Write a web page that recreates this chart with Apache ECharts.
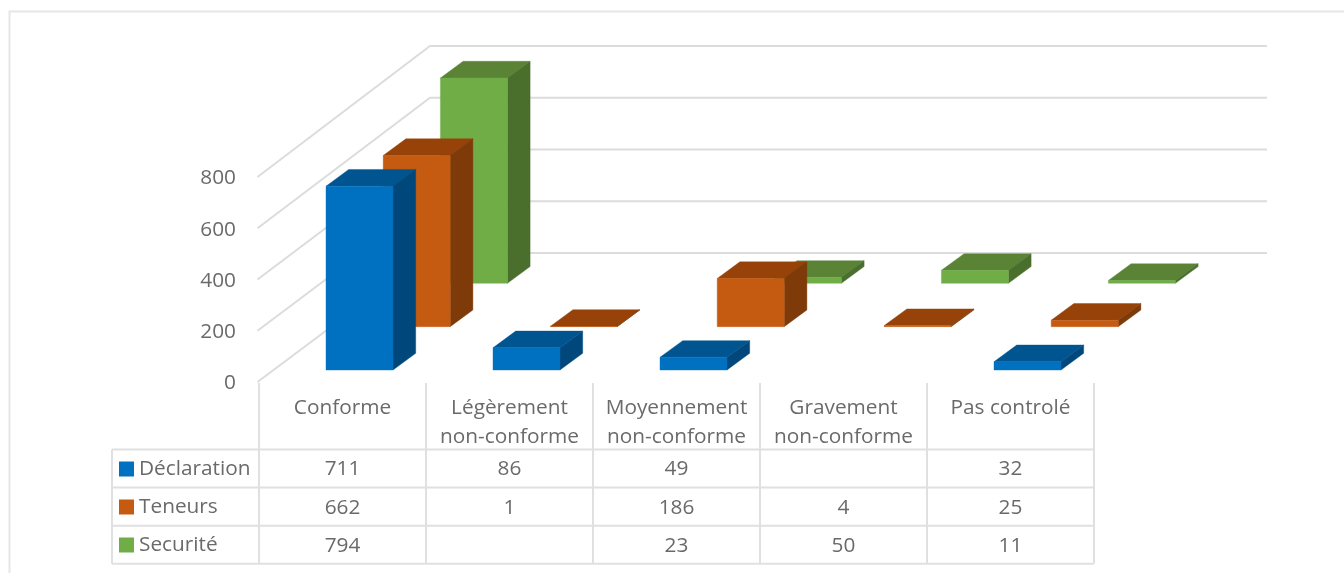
<!DOCTYPE html>
<html><head><meta charset="utf-8">
<style>html,body{margin:0;padding:0;background:#fff}#c{width:1344px;height:573px}</style>
<script src="https://cdn.jsdelivr.net/npm/echarts@6/dist/echarts.min.js"></script>
</head><body><div id="c"></div>
<script>
const categories = ['Conforme','Légèrement\nnon-conforme','Moyennement\nnon-conforme','Gravement\nnon-conforme','Pas controlé'];
const declaration = [711, 86, 49, null, 32];
const teneurs = [662, 1, 186, 4, 25];
const securite = [794, null, 23, 50, 11];
const yTicks = [0, 200, 400, 600, 800];

const FONT = '"Open Sans", sans-serif';
const FONT_SIZE = 20.8;
const TEXT = '#6A6A6A';
const LINE = '#E0E0E0';
const chart = echarts.init(document.getElementById('c'));

// Projection constants of the fake 3D view
const WALL_DX = 171, WALL_DY = 129, WALL_W = 837, WALL_SCALE = 1.01;
const BAR_W = 67, BAR_DX = 22.7, BAR_DY = 16.7, BAR_SCALE = 1.009;
const FRONT_SHIFT_X = 17, FRONT_SHIFT_Y = 12, ROW_DX = 57.2, ROW_DY = 43.35;
const ROW_LINES = [449.5, 487.6, 525.7, 563.8];
const TABLE_LEFT = 112, HEADER_TOP = 383;

function poly(points, fill, z2) {
  return {type:'polygon', z2, shape:{points}, style:{fill, stroke:fill, lineWidth:0.4}};
}
function barSeries(name, values, row, front, top, side) {
  return {
    name, type:'custom', coordinateSystem:'cartesian2d', silent:true, z:2+(2-row),
    itemStyle:{color:front},
    data: values.map((v,i)=>[i,v]).filter(d=>d[1]!==null),
    renderItem(params, api) {
      const p0 = api.coord([api.value(0), 0]);
      const pv = api.coord([api.value(0), api.value(1)]);
      const h = (p0[1]-pv[1])*BAR_SCALE;
      const l = p0[0]+FRONT_SHIFT_X-BAR_W/2+ROW_DX*row, r = l+BAR_W;
      const b = p0[1]-FRONT_SHIFT_Y-ROW_DY*row, t = b-h;
      return {type:'group', children:[
        poly([[l,t],[r,t],[r+BAR_DX,t-BAR_DY],[l+BAR_DX,t-BAR_DY]], top),
        poly([[r,b],[r+BAR_DX,b-BAR_DY],[r+BAR_DX,t-BAR_DY],[r,t]], side),
        poly([[l,b],[r,b],[r,t],[l,t]], front)
      ]};
    }
  };
}
function line(x1,y1,x2,y2){
  return {type:'line', shape:{x1,y1,x2,y2}, style:{stroke:LINE, lineWidth:2}};
}

const wallSeries = {
  type:'custom', coordinateSystem:'cartesian2d', silent:true, z:1,
  data: yTicks.map(v=>[0,v]),
  renderItem(params, api){
    const cs = params.coordSys;
    const base = api.coord([0,0])[1];
    const y = api.coord([0,api.value(1)])[1];
    const yb = base-WALL_DY-(base-y)*WALL_SCALE;
    return {type:'polyline', shape:{points:[[cs.x-1.5,y],[cs.x+WALL_DX,yb],[cs.x+WALL_DX+WALL_W,yb]]},
      style:{stroke:'#DCDCDC', lineWidth:2, fill:null}};
  }
};
const tableLines = {
  type:'custom', coordinateSystem:'cartesian2d', silent:true, z:1,
  data: categories.map((c,i)=>[i,0]).concat([[categories.length,0]]),
  renderItem(params, api){
    const cs = params.coordSys, band = cs.width/categories.length;
    const i = params.dataIndex;
    const kids = [line(cs.x+band*i, HEADER_TOP, cs.x+band*i, ROW_LINES[3])];
    if(i===0){
      ROW_LINES.forEach(y=>kids.push(line(TABLE_LEFT,y,cs.x+cs.width,y)));
      kids.push(line(TABLE_LEFT,ROW_LINES[0],TABLE_LEFT,ROW_LINES[3]));
    }
    return {type:'group', children:kids};
  }
};
const tableRows = [declaration, teneurs, securite];
const cells = [];
tableRows.forEach((vals,r)=>vals.forEach((v,c)=>{ if(v!==null) cells.push([c,r,v]); }));
const tableCells = {
  type:'custom', coordinateSystem:'cartesian2d', silent:true, z:6,
  dimensions:['cat','row','val'],
  encode:{x:0, y:2},
  data: cells,
  renderItem(params, api){
    const x = api.coord([api.value(0),0])[0];
    const r = api.value(1);
    return {type:'text', style:{text:String(api.value(2)), x, y:(ROW_LINES[r]+ROW_LINES[r+1])/2+1,
      align:'center', verticalAlign:'middle', fill:TEXT, font:FONT_SIZE+'px '+FONT}};
  }
};

chart.setOption({
  animation:false,
  backgroundColor:'#fff',
  graphic:[{type:'rect', silent:true, z:0, shape:{x:9.5,y:11.5,width:1400,height:600},
    style:{fill:null, stroke:'#E6E6E6', lineWidth:2}}],
  grid:{left:259, top:177, width:835, height:205, containLabel:false},
  legend:{
    orient:'vertical', left:119, top:457, padding:0, itemGap:14, itemWidth:15, itemHeight:15,
    icon:'rect', selectedMode:false, itemStyle:{borderWidth:0},
    data:['Déclaration','Teneurs','Securité'],
    textStyle:{color:TEXT, fontFamily:FONT, fontSize:FONT_SIZE, lineHeight:24, padding:[0,0,0,0]}
  },
  xAxis:{
    type:'category', data:categories, boundaryGap:true,
    axisLine:{show:false}, axisTick:{show:false}, splitLine:{show:false},
    axisLabel:{interval:0, margin:12, color:TEXT, fontFamily:FONT, fontSize:FONT_SIZE, lineHeight:29, verticalAlign:'top', hideOverlap:false}
  },
  yAxis:{
    type:'value', min:0, max:800, interval:200,
    axisLine:{show:false}, axisTick:{show:false}, splitLine:{show:false},
    axisLabel:{margin:23, color:TEXT, fontFamily:FONT, fontSize:FONT_SIZE, verticalAlign:'top', lineHeight:3}
  },
  series:[
    wallSeries, tableLines,
    barSeries('Securité', securite, 2, '#70AD47', '#5A8336', '#4A6E2B'),
    barSeries('Teneurs', teneurs, 1, '#C55A11', '#964209', '#7F3A09'),
    barSeries('Déclaration', declaration, 0, '#0070C0', '#005591', '#00487C'),
    tableCells
  ]
});
</script></body></html>
